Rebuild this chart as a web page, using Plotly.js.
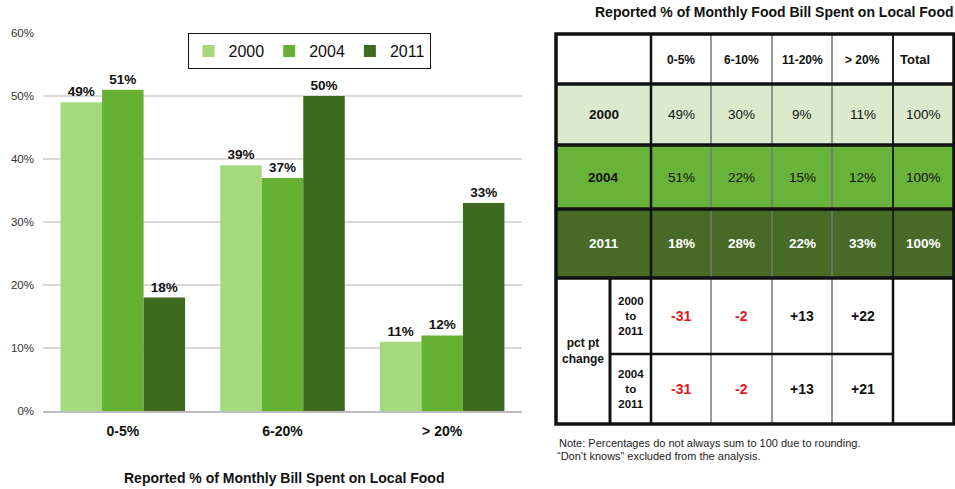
<!DOCTYPE html>
<html><head><meta charset="utf-8">
<script src="https://cdn.plot.ly/plotly-3.0.1.min.js"></script>
<style>html,body{margin:0;padding:0;background:#fff}#c{width:955px;height:489px}</style>
</head><body><div id="c"></div>
<script>
// ---- data ----
var categories = ['0-5%', '6-20%', '> 20%'];
var years = ['2000', '2004', '2011'];
var values2000 = [0.49, 0.39, 0.11];
var values2004 = [0.51, 0.37, 0.12];
var values2011 = [0.18, 0.50, 0.33];
var yTickVals = [0, 0.1, 0.2, 0.3, 0.4, 0.5, 0.6];
var yTickText = ['0%', '10%', '20%', '30%', '40%', '50%', '60%'];

var tableTitle = 'Reported % of Monthly Food Bill Spent on Local Food';
var tableCols = ['0-5%', '6-10%', '11-20%', '> 20%', 'Total'];
var table2000 = [49, 30, 9, 11, 100];
var table2004 = [51, 22, 15, 12, 100];
var table2011 = [18, 28, 22, 33, 100];
var changeLabel = 'pct pt<br>change';
var change0011Label = '2000<br>to<br>2011';
var change0411Label = '2004<br>to<br>2011';
var change0011 = [-31, -2, 13, 22];
var change0411 = [-31, -2, 13, 21];
var xAxisTitle = 'Reported % of Monthly Bill Spent on Local Food';
var noteLines = ['Note: Percentages do not always sum to 100 due to rounding.', '\u201cDon\u2019t knows\u201d excluded from the analysis.'];

// ---- styling / layout ----
var W = 955, H = 489;
var F = 'Liberation Sans, Arial, sans-serif';
var barColors = ['#a6d97d', '#66b032', '#3f6b20'];
var rowFills = ['#dce9cc', '#6ab33a', '#476b26'];
function X(p) { return p / W; }
function Y(p) { return 1 - p / H; }

var series = [values2000, values2004, values2011];
var traces = series.map(function (v, i) {
  return {
    type: 'bar', x: categories, y: v, name: years[i],
    marker: { color: barColors[i] },
    texttemplate: '%{y:.0%}', textposition: 'outside',
    textfont: { family: F, size: 13.5, color: '#111', weight: 'bold' },
    cliponaxis: false, hoverinfo: 'skip'
  };
});

var shapes = [], annotations = [];

// table geometry (pixels)
var colEdges = [556, 651, 711, 772, 832, 893, 954];
var subEdge = 610;
var rowEdges = [34, 84, 145, 209, 278, 354, 424];

function rect(x0, y0, x1, y1, fill) {
  shapes.push({ type: 'rect', xref: 'paper', yref: 'paper', x0: X(x0), x1: X(x1), y0: Y(y1), y1: Y(y0),
    fillcolor: fill, line: { width: 0 }, layer: 'above' });
}
function line(x0, y0, x1, y1, color, w) {
  shapes.push({ type: 'line', xref: 'paper', yref: 'paper', x0: X(x0), x1: X(x1), y0: Y(y0), y1: Y(y1),
    line: { color: color, width: w }, layer: 'above' });
}
function text(t, cx, cy, size, color, bold, anchor) {
  annotations.push({ xref: 'paper', yref: 'paper', x: X(cx), y: Y(cy), text: t, showarrow: false,
    xanchor: anchor || 'center', yanchor: 'middle',
    font: { family: F, size: size, color: color, weight: bold ? 'bold' : 'normal' } });
}

// row fills
var rowData = [table2000, table2004, table2011];
for (var r = 0; r < 3; r++) rect(colEdges[0], rowEdges[r + 1], colEdges[6], rowEdges[r + 2], rowFills[r]);

// grid lines
for (var c = 2; c <= 5; c++) {
  var isDark = (c === 5);
  line(colEdges[c], rowEdges[0], colEdges[c], rowEdges[4], isDark ? '#222' : '#777', isDark ? 2 : 1.5);
  line(colEdges[c], rowEdges[4], colEdges[c], rowEdges[6], isDark ? '#111' : '#777', isDark ? 2.5 : 1.5);
}
line(colEdges[1], rowEdges[0], colEdges[1], rowEdges[6], '#111', 2.5);
line(subEdge, rowEdges[4], subEdge, rowEdges[6], '#111', 3);
for (var k = 1; k <= 4; k++) line(colEdges[0], rowEdges[k], colEdges[6], rowEdges[k], '#111', 3.5);
line(subEdge, rowEdges[5], colEdges[5], rowEdges[5], '#111', 2.5);
shapes.push({ type: 'rect', xref: 'paper', yref: 'paper', x0: X(colEdges[0]), x1: X(colEdges[6]),
  y0: Y(rowEdges[6]), y1: Y(rowEdges[0]), line: { color: '#111', width: 3.5 }, layer: 'above' });

// header texts
tableCols.forEach(function (t, i) {
  var isTotal = (i === 4);
  text(t, isTotal ? colEdges[i + 1] + 5 : (colEdges[i + 1] + colEdges[i + 2]) / 2, (rowEdges[0] + rowEdges[1]) / 2 + 1,
    isTotal ? 13 : 12, '#111', true, isTotal ? 'left' : 'center');
});
// year rows
for (var r = 0; r < 3; r++) {
  var cy = (rowEdges[r + 1] + rowEdges[r + 2]) / 2;
  var col = r === 2 ? '#fff' : '#111';
  text(years[r], (colEdges[0] + colEdges[1]) / 2, cy, 13.5, col, true);
  rowData[r].forEach(function (v, i) {
    text(v + '%', (colEdges[i + 1] + colEdges[i + 2]) / 2, cy, 13.5, col, r === 2);
  });
}
// change rows
text(changeLabel, (colEdges[0] + subEdge) / 2, (rowEdges[4] + rowEdges[6]) / 2, 12, '#111', true);
var changes = [change0011, change0411], changeLabels = [change0011Label, change0411Label];
for (var r = 0; r < 2; r++) {
  var cy2 = (rowEdges[r + 4] + rowEdges[r + 5]) / 2;
  text(changeLabels[r], (subEdge + colEdges[1]) / 2, cy2, 11.5, '#111', true);
  changes[r].forEach(function (v, i) {
    text(v > 0 ? '+' + v : String(v), (colEdges[i + 1] + colEdges[i + 2]) / 2, cy2, 14, v < 0 ? '#e31a1a' : '#111', true);
  });
}
// title and notes
text(tableTitle, 774, 12, 14, '#111', true);
text(noteLines[0], 557, 443, 11, '#222', false, 'left');
text(noteLines[1], 555, 456, 11, '#222', false, 'left');
text(xAxisTitle, 284, 478, 14, '#111', true);

var layout = {
  width: W, height: H, margin: { l: 0, r: 0, t: 0, b: 0 },
  paper_bgcolor: '#fff', plot_bgcolor: '#fff',
  font: { family: F, color: '#222' },
  barmode: 'group', bargap: 0.22, bargroupgap: 0,
  xaxis: { domain: [X(43), X(522)], tickfont: { family: F, size: 14, color: '#111', weight: 'bold' },
    showline: true, linecolor: '#bdbdbd', linewidth: 1.5, ticks: '', ticklabelstandoff: 7, fixedrange: true },
  yaxis: { domain: [Y(411), Y(33)], range: [0, 0.6], tickvals: yTickVals, ticktext: yTickText,
    tickfont: { family: F, size: 11.5, color: '#333' }, gridcolor: '#d9d9d9', gridwidth: 1.5,
    zeroline: false, ticks: '', ticklabelstandoff: 8, fixedrange: true },
  showlegend: true,
  legend: { orientation: 'h', x: X(309), xanchor: 'center', y: Y(33), yanchor: 'top',
    bordercolor: '#111', borderwidth: 1, bgcolor: '#fff', font: { family: F, size: 16, color: '#111' },
    itemwidth: 30, traceorder: 'normal' },
  shapes: shapes, annotations: annotations
};
Plotly.newPlot('c', traces, layout, { staticPlot: true, displayModeBar: false });
</script></body></html>
